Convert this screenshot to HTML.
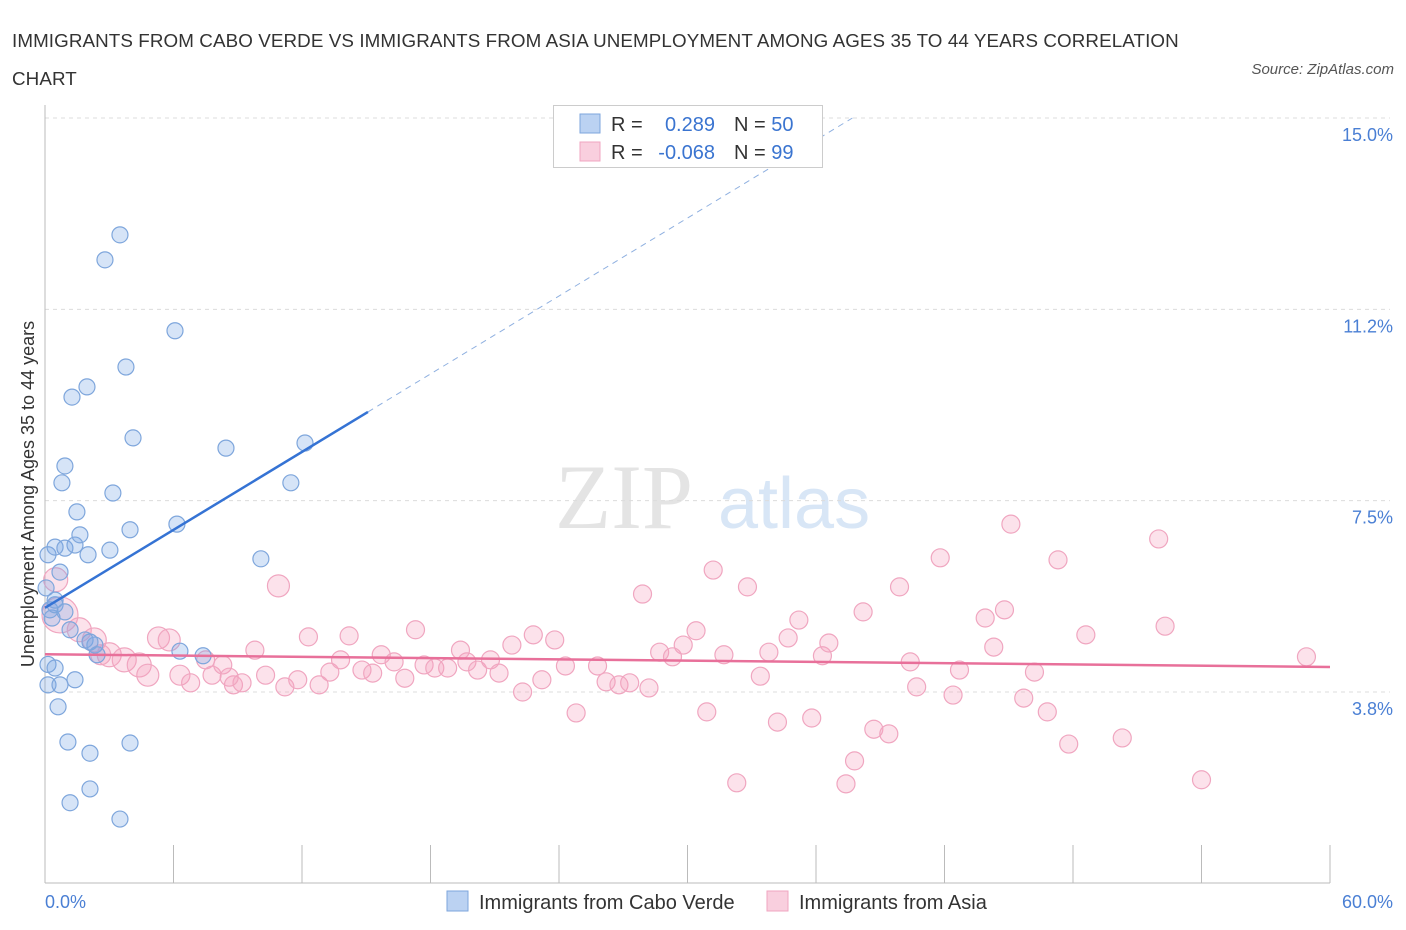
<!DOCTYPE html>
<html><head><meta charset="utf-8">
<style>
body{margin:0;background:#fff;font-family:"Liberation Sans",sans-serif;}
#wrap{position:relative;width:1406px;height:930px;overflow:hidden;}
.t{position:absolute;white-space:nowrap;}
</style></head>
<body>
<div id="wrap">
<div class="t" style="left:12px;top:22px;font-size:18.8px;letter-spacing:0.1px;color:#333;line-height:38px;">IMMIGRANTS FROM CABO VERDE VS IMMIGRANTS FROM ASIA UNEMPLOYMENT AMONG AGES 35 TO 44 YEARS CORRELATION<br>CHART</div>
<div class="t" style="right:12px;top:61px;font-size:15px;color:#555;font-style:italic;">Source: ZipAtlas.com</div>
<svg id="svg" width="1406" height="930" style="position:absolute;left:0;top:0"></svg>
</div>
<script>
const xTicks=[0,6,12,18,24,30,36,42,48,54,60];
const yTicks=[15,11.25,7.5,3.75];
const yTickLabels=["15.0%","11.2%","7.5%","3.8%"];
const blueX=[0.14,0.47,0.93,1.40,0.70,0.23,0.33,0.47,0.93,1.17,1.87,2.33,2.10,2.43,0.14,0.47,0.14,0.70,1.40,0.61,1.07,2.10,3.97,1.17,2.10,3.50,3.50,2.80,6.07,3.78,1.96,1.26,4.11,8.45,12.14,0.93,0.79,11.48,3.17,1.49,1.63,3.97,6.16,3.03,2.01,10.08,6.30,7.38,0.05,0.47];
const blueY=[6.44,6.59,6.57,6.63,6.10,5.36,5.20,5.46,5.32,4.97,4.77,4.67,4.73,4.48,4.29,4.22,3.89,3.89,3.99,3.46,2.77,2.55,2.75,1.58,1.85,1.26,12.71,12.22,10.83,10.12,9.73,9.53,8.73,8.53,8.63,8.18,7.85,7.85,7.65,7.28,6.83,6.93,7.04,6.53,6.44,6.36,4.55,4.46,5.79,5.55];
const pinkX=[0.7,1.6,2.3,3.0,3.7,4.4,4.8,5.3,5.8,6.3,6.8,7.5,7.8,8.3,8.8,9.2,9.8,10.3,11.2,11.8,12.3,12.8,13.3,13.8,14.2,14.8,15.3,15.7,16.3,16.8,17.3,17.7,18.2,18.8,19.4,19.7,20.2,20.8,21.2,21.8,22.3,22.8,23.2,23.8,24.3,24.8,25.8,26.2,26.8,27.3,27.9,28.2,28.7,29.3,29.8,30.4,30.9,31.2,31.7,32.3,32.8,33.4,33.8,34.2,34.7,35.2,35.8,36.3,36.6,37.4,37.8,38.2,38.7,39.4,39.9,40.4,40.7,41.8,42.4,42.7,43.9,44.3,44.8,45.1,45.7,46.2,46.8,47.3,47.8,48.6,50.3,52.0,52.3,54.0,58.9,10.9,8.6,0.5,2.6];
const pinkY=[5.26,4.97,4.77,4.48,4.38,4.28,4.08,4.81,4.77,4.08,3.93,4.38,4.08,4.28,3.89,3.93,4.57,4.08,3.85,3.99,4.83,3.89,4.14,4.38,4.85,4.18,4.12,4.48,4.34,4.02,4.97,4.28,4.22,4.22,4.57,4.34,4.18,4.38,4.12,4.67,3.75,4.87,3.99,4.77,4.26,3.34,4.26,3.95,3.89,3.93,5.67,3.83,4.53,4.44,4.67,4.95,3.36,6.14,4.48,1.97,5.81,4.06,4.53,3.16,4.81,5.16,3.24,4.46,4.71,1.95,2.40,5.32,3.02,2.93,5.81,4.34,3.85,6.38,3.69,4.18,5.20,4.63,5.36,7.04,3.63,4.14,3.36,6.34,2.73,4.87,2.85,6.75,5.04,2.03,4.44,5.83,4.04,5.95,4.48];
const pinkSize=[18,12,12,12,12,12,11,11,11,10,9,9,9,9,9,9,9,9,9,9,9,9,9,9,9,9,9,9,9,9,9,9,9,9,9,9,9,9,9,9,9,9,9,9,9,9,9,9,9,9,9,9,9,9,9,9,9,9,9,9,9,9,9,9,9,9,9,9,9,9,9,9,9,9,9,9,9,9,9,9,9,9,9,9,9,9,9,9,9,9,9,9,9,9,9,11,9,12,10];
const blueTrend=[5.40,9.24,15.08];
const pinkTrend=[4.49,4.24];

const X=v=>45+v*(1330-45)/60;
const Y=v=>692-(v-3.75)*(692-118)/11.25;
const svg=document.getElementById('svg');
const NS='http://www.w3.org/2000/svg';
function mk(tag,attrs,parent){const e=document.createElementNS(NS,tag);for(const k in attrs)e.setAttribute(k,attrs[k]);(parent||svg).appendChild(e);return e;}

let wm=mk('text',{x:555,y:528,'font-size':92,'font-family':'Liberation Serif, serif',fill:'#e4e4e4'});
wm.textContent='ZIP';


let wm2=mk('text',{x:718,y:528,'font-size':72,'font-family':'Liberation Sans, sans-serif',fill:'#d8e6f6'});
wm2.textContent='atlas';



yTicks.forEach((v,i)=>{
  const g=mk('line',{x1:45,x2:1390,y1:Y(v),y2:Y(v),stroke:'#dcdcdc','stroke-dasharray':'4,4'});
  
  
  const t=mk('text',{x:1393,y:Y(v)+23,'text-anchor':'end','font-size':18,fill:'#4a7fd4'});
  t.textContent=yTickLabels[i];
  
  
});
let ax=mk('line',{x1:45,x2:45,y1:105,y2:883,stroke:'#bbb'});


let axx=mk('line',{x1:45,x2:1330,y1:883,y2:883,stroke:'#bbb'});


xTicks.forEach(v=>{
  const tk=mk('line',{x1:X(v),x2:X(v),y1:845,y2:883,stroke:'#bbb'});
  
  
});
[[0,'0.0%','start',45],[60,'60.0%','end',1393]].forEach(a=>{
  const t=mk('text',{x:a[3],y:908,'text-anchor':a[2],'font-size':18,fill:'#4a7fd4'});
  t.textContent=a[1];
  
  
});
let yt=mk('text',{x:0,y:0,transform:'translate(34,494) rotate(-90)','text-anchor':'middle','font-size':18,fill:'#333'});
yt.textContent='Unemployment Among Ages 35 to 44 years';



pinkX.forEach((v,i)=>{
  const c=mk('circle',{cx:X(v),cy:Y(pinkY[i]),r:pinkSize[i],fill:'rgba(244,160,190,0.3)',stroke:'#f0a6c0','stroke-width':1.2});
  
  
});
blueX.forEach((v,i)=>{
  const c=mk('circle',{cx:X(v),cy:Y(blueY[i]),r:8,fill:'rgba(120,165,230,0.3)',stroke:'#7ea6dc','stroke-width':1.2});
  
  
});
const bs=(blueTrend[1]-blueTrend[0])/15.08;
let bl=mk('line',{x1:X(0),y1:Y(blueTrend[0]),x2:X(15.08),y2:Y(blueTrend[1]),stroke:'#3573d4','stroke-width':2.5});


const xEnd=(15-blueTrend[0])/bs;
let bd=mk('line',{x1:X(15.08),y1:Y(blueTrend[1]),x2:X(xEnd),y2:Y(15),stroke:'#8fb0e0','stroke-width':1,'stroke-dasharray':'6,5'});


let pl=mk('line',{x1:X(0),y1:Y(pinkTrend[0]),x2:X(60),y2:Y(pinkTrend[1]),stroke:'#e8709a','stroke-width':2.5});



let lb=mk('rect',{x:553.5,y:105.5,width:269,height:62,fill:'#fff',stroke:'#ccc'});


[[123,'rgba(120,165,230,0.5)','#7ea6dc','0.289','50'],[151,'rgba(244,160,190,0.5)','#f0a6c0','-0.068','99']].forEach((r,i)=>{
  const s=mk('rect',{x:580,y:r[0]-9,width:20,height:19,fill:r[1],stroke:r[2]});
  
  
  const t=mk('text',{x:611,y:r[0]+8,'font-size':20,fill:'#333'});
  t.innerHTML='R = <tspan fill="#3a74d0" x="715" text-anchor="end">'+r[3]+'</tspan><tspan x="734" fill="#333">N = </tspan><tspan fill="#3a74d0">'+r[4]+'</tspan>';
  
  
});
[[447,'rgba(120,165,230,0.5)','#7ea6dc','Immigrants from Cabo Verde','legend-cabo-verde'],[767,'rgba(244,160,190,0.5)','#f0a6c0','Immigrants from Asia','legend-asia']].forEach(l=>{
  const s=mk('rect',{x:l[0],y:891,width:21,height:20,fill:l[1],stroke:l[2]});
  
  
  const t=mk('text',{x:l[0]+32,y:909,'font-size':20,fill:'#333'});
  t.textContent=l[3];
  
  
});
</script>
</body></html>
